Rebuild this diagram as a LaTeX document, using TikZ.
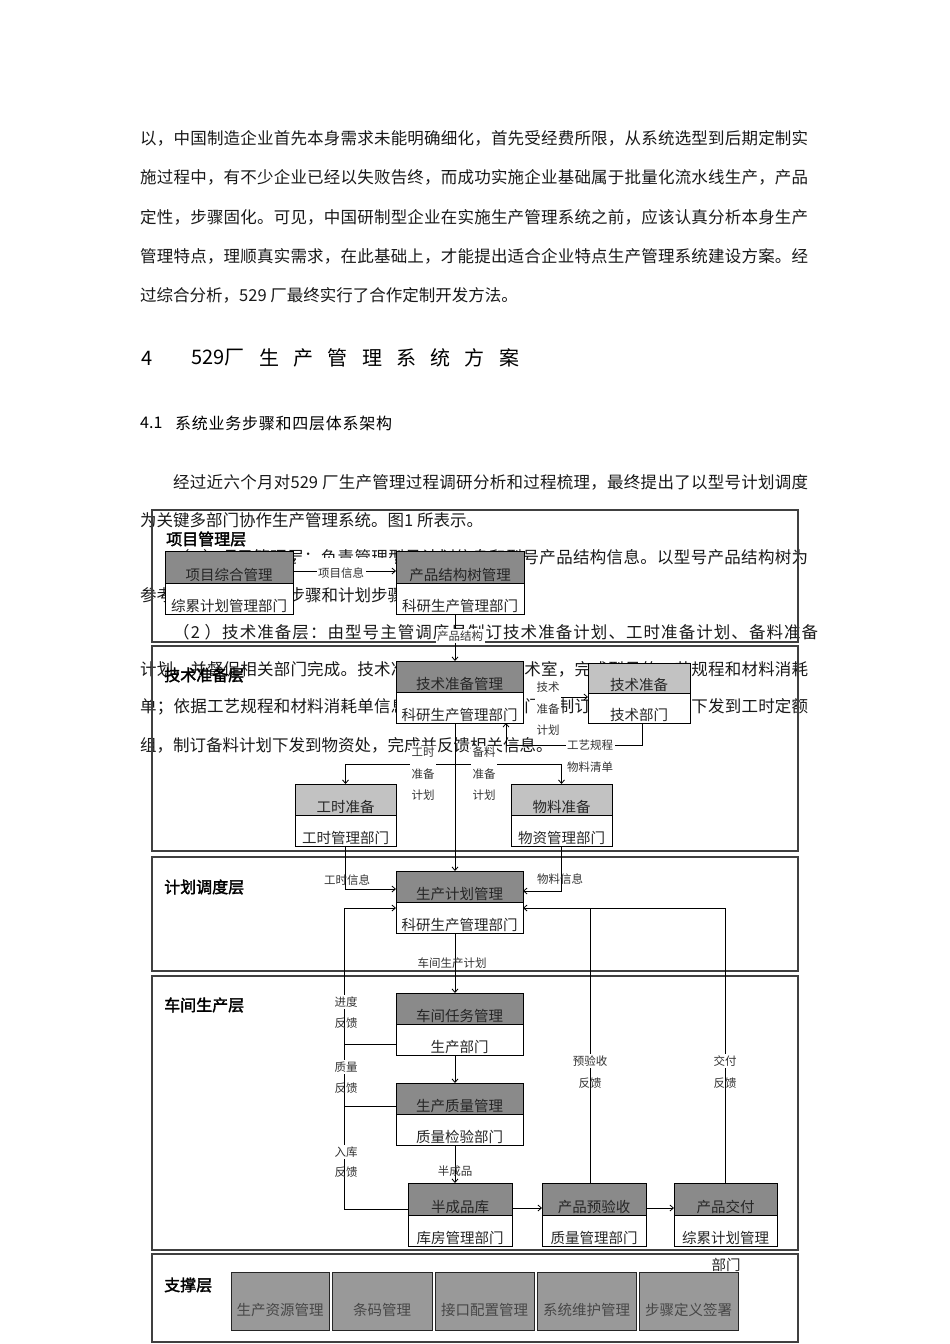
\documentclass[tikz,border=0pt]{standalone}
\usepackage{fontspec}
\setmainfont{Noto Sans CJK SC}
\newfontfamily\titlefont{Noto Sans CJK SC}[FakeBold=2]
\usetikzlibrary{arrows.meta}
\definecolor{dk}{gray}{0.54}
\definecolor{lt}{gray}{0.76}
\definecolor{sup}{gray}{0.60}
\ExplSyntaxOn
\NewDocumentCommand\jline{mm}
  { \hbox_to_wd:nn {#1} { \tl_map_inline:nn {#2} { ##1 \hfil } \unskip } }
\ExplSyntaxOff
\newcommand\twobox[9]{%
  \fill[white] (#2,#3) rectangle (#4,#6);
  \fill[#7] (#2,#3) rectangle (#4,#5);
  \node[draw=black, line width=1pt, inner sep=0pt, outer sep=0pt,
        minimum width={#4pt-#2pt}, minimum height={#6pt-#3pt}]
        (#1) at ({(#2+#4)/2},{(#3+#6)/2}) {};
  \draw[line width=1pt] (#1.west |- 0,#5) -- (#1.east |- 0,#5);
  \node[bt] (#1t) at ({(#2+#4)/2},#5-8) {#8};
  \node[bt] (#1b) at ({(#2+#4)/2},#6-8) {#9};
}
\newcommand\supbox[4]{%
  \node[draw=black!85, line width=1pt, fill=sup, inner sep=0pt,
        minimum width={#3pt-#2pt}, minimum height=58pt]
        (#1) at ({(#2+#3)/2},1301) {};
  \node[bt, text=black!72] (#1t) at ({(#2+#3)/2},1310) {#4};
}
\begin{document}
\begin{tikzpicture}[x=1pt,y=-1pt,
  body/.style={anchor=west, inner sep=0pt, font=\fontsize{16.5}{18}\selectfont, text=black!90},
  h1/.style={anchor=west, inner sep=0pt, font=\fontsize{20}{22}\selectfont},
  h2/.style={anchor=west, inner sep=0pt, font=\fontsize{16}{18}\selectfont},
  ttl/.style={anchor=west, inner sep=0pt, font=\titlefont\fontsize{16}{18}\selectfont},
  bt/.style={inner sep=0pt, font=\fontsize{14.5}{16}\selectfont, text=black!85},
  lbl/.style={inner sep=1.5pt, font=\fontsize{11.5}{21.5}\selectfont, text=black!80, align=center},
  lblw/.style={lbl, fill=white},
  panel/.style={draw=black!75, line width=1.6pt},
  ln/.style={line width=0.8pt},
  arr/.style={line width=0.8pt, -{Straight Barb[length=3.5pt,width=6pt]}}
]
\useasboundingbox (0,0) rectangle (950,1344);
\fill[white] (0,0) rectangle (950,1344);

% ---------- body text ----------
\node[body] (p1a) at (140,138) {\jline{668pt}{以，中国制造企业首先本身需求未能明确细化，首先受经费所限，从系统选型到后期定制实}};
\node[body] (p1b) at (140,177) {\jline{668pt}{施过程中，有不少企业已经以失败告终，而成功实施企业基础属于批量化流水线生产，产品}};
\node[body] (p1c) at (140,217) {\jline{668pt}{定性，步骤固化。可见，中国研制型企业在实施生产管理系统之前，应该认真分析本身生产}};
\node[body] (p1d) at (140,256) {\jline{668pt}{管理特点，理顺真实需求，在此基础上，才能提出适合企业特点生产管理系统建设方案。经}};
\node[body] (p1e) at (140,295) {过综合分析，529 厂最终实行了合作定制开发方法。};

\node[h1] (h4) at (141,358) {4};
\node[h1] (h529) at (191,358) {529厂};
\node[h1] (hrest) at (259,358) {\jline{260pt}{生产管理系统方案}};

\node[h2] (h41) at (140,423) {4.1};
\node[h2] (h41t) at (175,423) {\jline{217pt}{系统业务步骤和四层体系架构}};

\node[body] (q1) at (173,482) {\jline{635pt}{经过近六个月对{529\ }厂生产管理过程调研分析和过程梳理，最终提出了以型号计划调度}};
\node[body] (q2) at (140,520) {为关键多部门协作生产管理系统。图1 所表示。};
\node[body] (q3) at (173,557) {\jline{635pt}{（{1\ }）项目管理层：负责管理型号计划信息和型号产品结构信息。以型号产品结构树为}};
\node[body] (q4) at (140,595) {参考，编制型号工艺步骤和计划步骤。};
\node[body] (q5) at (173,632) {\jline{645pt}{（{2\ }）技术准备层：由型号主管调度员制订技术准备计划、工时准备计划、备料准备}};
\node[body] (q6) at (140,669) {\jline{668pt}{计划，并督促相关部门完成。技术准备由技术部门技术室，完成型号的工艺规程和材料消耗}};
\node[body] (q7) at (140,707) {\jline{668pt}{单；依据工艺规程和材料消耗单信息，由工时管理部门，制订工时准备计划下发到工时定额}};
\node[body] (q8) at (140,745) {组，制订备料计划下发到物资处，完成并反馈相关信息。};

% ---------- layer panels ----------
\draw[panel] (152,510) rectangle (798,642);
\draw[panel] (152,646) rectangle (798,851);
\draw[panel] (152,857) rectangle (798,971);
\draw[panel] (152,976) rectangle (798,1250);
\draw[panel] (152,1254) rectangle (798,1342);

% ---------- boxes ----------
\twobox{pj1}{165}{551}{293}{583}{614}{dk}{项目综合管理}{综累计划管理部门}
\twobox{pj2}{396}{551}{524}{583}{614}{dk}{产品结构树管理}{科研生产管理部门}
\twobox{tp1}{396}{661}{523}{692}{723}{dk}{技术准备管理}{科研生产管理部门}
\twobox{tp2}{588}{663}{690}{693}{723}{lt}{技术准备}{技术部门}
\twobox{tp3}{295}{784}{396}{815}{846}{lt}{工时准备}{工时管理部门}
\twobox{tp4}{511}{784}{612}{815}{846}{lt}{物料准备}{物资管理部门}
\twobox{pp1}{396}{871}{523}{902}{933}{dk}{生产计划管理}{科研生产管理部门}
\twobox{wk1}{396}{993}{523}{1024}{1055}{dk}{车间任务管理}{生产部门}
\twobox{wk2}{396}{1083}{523}{1114}{1145}{dk}{生产质量管理}{质量检验部门}
\twobox{sp1}{408}{1183}{512}{1215}{1246}{dk}{半成品库}{库房管理部门}
\twobox{sp2}{542}{1183}{646}{1215}{1246}{dk}{产品预验收}{质量管理部门}
\twobox{sp3}{674}{1183}{777}{1215}{1246}{dk}{产品交付}{综累计划管理}
\node[bt] (sp3c) at (726,1265) {部门};

\supbox{s1}{231}{329}{生产资源管理}
\supbox{s2}{332}{432}{条码管理}
\supbox{s3}{435}{534}{接口配置管理}
\supbox{s4}{537}{636}{系统维护管理}
\supbox{s5}{639}{738}{步骤定义签署}

% ---------- connectors ----------
\fill[white] (296,558) rectangle (395,585);
\coordinate (spine) at (455,0);
\coordinate (tjs) at (537,697);
\coordinate (hb) at (455,764);
\coordinate (lfb) at (344,908);

\draw[arr] (pj1.east |- 0,571) -- (pj2.west |- 0,571);
\draw[arr] (spine |- pj2.south) -- (spine |- tp1.north);
\draw[arr] (tjs) -- (tp2.west |- tjs);
\draw[arr] (tp2.south -| 642,0) |- (506,745) -- (tp1.south -| 506,0);
\draw[arr] (spine |- tp1.south) -- (spine |- pp1.north);
\draw[arr] (hb) -| (tp3.north);
\draw[arr] (hb) -| (tp4.north);
\draw[arr] (tp3.south) |- (pp1.west |- 0,889);
\draw[arr] (tp4.south) |- (pp1.east |- 0,891);
\draw[arr] (sp1.west |- 0,1209) -| (lfb) -- (pp1.west |- lfb);
\draw[ln] (wk1.west |- 0,1044) -- (lfb |- 0,1044);
\draw[ln] (wk2.west |- 0,1106) -- (lfb |- 0,1106);
\draw[arr] (sp3.north) |- (pp1.east |- 0,908);
\draw[ln] (sp2.north -| 590,0) -- (590,908);
\draw[arr] (spine |- pp1.south) -- (spine |- wk1.north);
\draw[arr] (spine |- wk1.south) -- (spine |- wk2.north);
\draw[arr] (spine |- wk2.south) -- (spine |- sp1.north);
\draw[arr] (sp1.east |- 0,1208) -- (sp2.west |- 0,1208);
\draw[arr] (sp2.east |- 0,1208) -- (sp3.west |- 0,1208);

% ---------- labels ----------
\node[lblw] (l1) at (341,573) {项目信息};
\node[lblw] (l2) at (460,636) {产品结构};
\node[lblw] (l3) at (548,709) {技术\\准备\\计划};
\node[lblw] (l4) at (590,745) {工艺规程};
\node[lbl] (l4b) at (590,767) {物料清单};
\node[lblw] (l5) at (423,774) {工时\\准备\\计划};
\node[lblw] (l6) at (484,774) {备料\\准备\\计划};
\node[lbl] (l7) at (347,880) {工时信息};
\node[lbl] (l8) at (560,879) {物料信息};
\node[lbl] (l9) at (452,963) {车间生产计划};
\node[lblw] (l10) at (346,1002) {进度};
\node[lbl] (l10b) at (346,1023) {反馈};
\node[lblw] (l11) at (346,1067) {质量};
\node[lbl] (l11b) at (346,1088) {反馈};
\node[lblw] (l12) at (346,1152) {入库};
\node[lbl] (l12b) at (346,1172) {反馈};
\node[lblw] (l13) at (590,1061) {预验收};
\node[lbl] (l13b) at (590,1083) {反馈};
\node[lblw] (l14) at (725,1061) {交付};
\node[lbl] (l14b) at (725,1083) {反馈};
\node[lbl] (l15) at (455,1171) {半成品};

% ---------- layer titles ----------
\node[ttl] (t1) at (166,539) {项目管理层};
\node[ttl] (t2) at (164,675) {技术准备层};
\node[ttl] (t3) at (164,887) {计划调度层};
\node[ttl] (t4) at (164,1005) {车间生产层};
\node[ttl] (t5) at (164,1285) {支撑层};
\end{tikzpicture}
\end{document}
